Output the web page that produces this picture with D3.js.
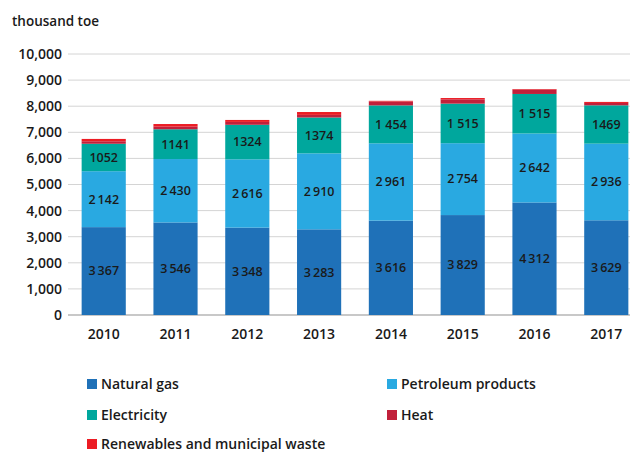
<!DOCTYPE html>
<html>
<head>
<meta charset="utf-8">
<script src="https://cdn.jsdelivr.net/npm/d3@7"></script>
<style>
  body { margin: 0; background: #fff; }
  text { font-family: 'Open Sans', sans-serif; fill: #1a1a1a; }
</style>
</head>
<body>
<svg id="chart" width="630" height="453"></svg>
<script>
var years = ['2010','2011','2012','2013','2014','2015','2016','2017'];
var naturalGas = [3367, 3546, 3348, 3283, 3616, 3829, 4312, 3629];
var petroleum = [2142, 2430, 2616, 2910, 2961, 2754, 2642, 2936];
var electricity = [1052, 1141, 1324, 1374, 1454, 1515, 1515, 1469];
var heat = [95, 100, 110, 100, 150, 165, 170, 90];
var renewables = [90, 100, 75, 110, 25, 50, 20, 40];
var electricityLabels = ['1052','1141','1324','1374','1 454','1 515','1 515','1469'];
var yTicks = [0,1000,2000,3000,4000,5000,6000,7000,8000,9000,10000];

var seriesNames = ['Natural gas','Petroleum products','Electricity','Heat','Renewables and municipal waste'];
var seriesColors = ['#1f71b8','#29a9e1','#00a79d','#c1203b','#ec1c24'];

var rows = years.map((y,i)=>({
  year: y,
  'Natural gas': naturalGas[i],
  'Petroleum products': petroleum[i],
  'Electricity': electricity[i],
  'Heat': heat[i],
  'Renewables and municipal waste': renewables[i]
}));

var svg = d3.select('#chart');

var x = d3.scaleBand().domain(years).range([68, 642]).paddingInner(0.385).paddingOuter(0.19);
var y = d3.scaleLinear().domain([0, 10000]).range([315, 54]);
var color = d3.scaleOrdinal().domain(seriesNames).range(seriesColors);

// grid
svg.append('g').selectAll('line')
  .data(yTicks)
  .enter()
  .append('line')
  .attr('x1', 68).attr('x2', 630)
  .attr('y1', d=>y(d)).attr('y2', d=>y(d))
  .attr('stroke', d=>d===0 ? '#c8c8c8' : '#d4d4d4')
  .attr('stroke-width', d=>d===0 ? 2 : 1);

var yAxis = d3.axisLeft(y).tickValues(yTicks).tickSize(0).tickPadding(6)
  .tickFormat(d3.format(','));
svg.append('g')
  .attr('transform','translate(68,0)')
  .call(yAxis)
  .call(g=>g.select('.domain').remove())
  .selectAll('text')
  .style('font-size','14px')
  .style('font-weight',600)
  .style('font-family',"'Open Sans', sans-serif")
  .attr('fill','#1a1a1a');

svg.append('text')
  .attr('x', 12).attr('y', 26)
  .style('font-size','13.5px')
  .style('font-weight',600)
  .text('thousand toe');

var stack = d3.stack().keys(seriesNames)(rows);

svg.append('g').selectAll('g')
  .data(stack)
  .enter()
  .append('g')
  .attr('fill', d=>color(d.key))
  .selectAll('rect')
  .data(d=>d)
  .enter()
  .append('rect')
  .attr('x', d=>x(d.data.year))
  .attr('width', x.bandwidth())
  .attr('y', d=>y(d[1]))
  .attr('height', d=>y(d[0])-y(d[1]));

// value labels
var fmt = v => d3.format(',')(v).replace(',', '\u2009');
var labelled = [
  {layer: stack[0], text: (d,i)=>fmt(naturalGas[i])},
  {layer: stack[1], text: (d,i)=>fmt(petroleum[i])},
  {layer: stack[2], text: (d,i)=>electricityLabels[i]}
];
labelled.forEach(L=>{
  svg.append('g').selectAll('text')
    .data(L.layer)
    .enter()
    .append('text')
    .attr('x', d=>x(d.data.year)+x.bandwidth()/2)
    .attr('y', d=>(y(d[0])+y(d[1]))/2)
    .attr('dy','.35em')
    .attr('text-anchor','middle')
    .style('font-size','12.5px')
    .style('font-weight',600)
    .text(L.text);
});

// x axis labels
var xAxis = d3.axisBottom(x).tickSize(0).tickPadding(14);
svg.append('g')
  .attr('transform','translate(0,315)')
  .call(xAxis)
  .call(g=>g.select('.domain').remove())
  .selectAll('text')
  .style('font-size','14px')
  .style('font-weight',600)
  .style('font-family',"'Open Sans', sans-serif")
  .attr('fill','#1a1a1a');

// legend
var legendPos = [[87,384],[387,384],[87,415],[387,415],[87,444]];
var leg = svg.append('g').selectAll('g')
  .data(seriesNames)
  .enter()
  .append('g')
  .attr('transform', (d,i)=>`translate(${legendPos[i][0]},${legendPos[i][1]})`);
leg.append('rect')
  .attr('x',0).attr('y',-5)
  .attr('width',10).attr('height',10)
  .attr('fill', d=>color(d));
leg.append('text')
  .attr('x',14).attr('y',0).attr('dy','.35em')
  .style('font-size','14px')
  .style('font-weight',600)
  .text(d=>d);
</script>
</body>
</html>
